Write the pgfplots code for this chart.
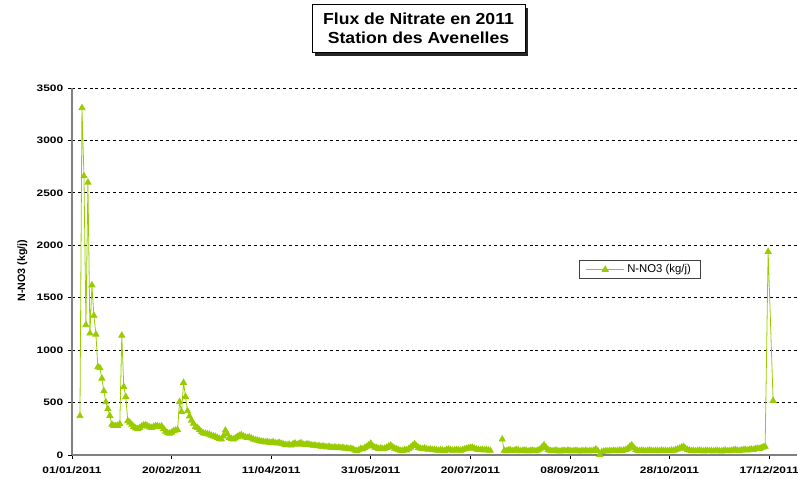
\documentclass[border=0pt]{standalone}
\usepackage{pgfplots}
\pgfplotsset{compat=1.18}
\usepackage{pgfplotstable}
\usepackage{fontspec}
\setmainfont{Liberation Sans}
\newfontfamily\stretched[FakeStretch=1.28]{Liberation Sans}
\newfontfamily\titlefont[FakeStretch=1.1]{Liberation Sans}
\definecolor{limeg}{HTML}{99CC00}
\pgfplotstableread[row sep=\\]{
day val\\
4 372\\ 5 3310\\ 6 2660\\ 7 1240\\ 8 2600\\ 9 1160\\ 10 1620\\ 11 1330\\ 12 1150\\ 13 840\\
14 830\\ 15 730\\ 16 610\\ 17 505\\ 18 440\\ 19 375\\ 20 290\\ 21 280\\ 22 278\\ 23 280\\
24 295\\ 25 1140\\ 26 650\\ 27 555\\ 28 325\\ 29 310\\ 30 290\\ 31 270\\ 32 255\\ 33 250\\
34 260\\ 35 275\\ 36 285\\ 37 285\\ 38 275\\ 39 265\\ 40 260\\ 41 270\\ 42 278\\ 43 275\\
44 270\\ 45 275\\ 46 250\\ 47 225\\ 48 210\\ 49 205\\ 50 215\\ 51 230\\ 52 235\\ 53 240\\
54 508\\ 55 413\\ 56 690\\ 57 556\\ 58 420\\ 59 370\\ 60 330\\ 61 300\\ 62 270\\ 63 260\\
64 240\\ 65 220\\ 66 207\\ 67 205\\ 68 200\\ 69 195\\ 70 185\\ 71 180\\ 72 175\\ 73 165\\
74 155\\ 75 150\\ 76 180\\ 77 235\\ 78 200\\ 79 165\\ 80 155\\ 81 150\\ 82 160\\ 83 175\\
84 185\\ 85 191\\ 86 180\\ 87 170\\ 88 165\\ 89 170\\ 90 160\\ 91 150\\ 92 143\\ 93 140\\
94 135\\ 95 130\\ 96 128\\ 97 122\\ 98 126\\ 99 120\\ 100 118\\ 101 125\\ 102 115\\ 103 112\\
104 118\\ 105 110\\ 106 105\\ 107 98\\ 108 95\\ 109 100\\ 110 92\\ 111 105\\ 112 112\\ 113 100\\
114 108\\ 115 115\\ 116 102\\ 117 98\\ 118 105\\ 119 100\\ 120 95\\ 121 90\\ 122 92\\ 123 85\\
124 88\\ 125 80\\ 126 84\\ 127 78\\ 128 75\\ 129 80\\ 130 72\\ 131 70\\ 132 75\\ 133 68\\
134 72\\ 135 66\\ 136 70\\ 137 62\\ 138 65\\ 139 58\\ 140 62\\ 141 55\\ 142 45\\ 143 40\\
144 48\\ 145 60\\ 146 55\\ 147 70\\ 148 80\\ 149 95\\ 150 110\\ 151 85\\ 152 72\\ 153 68\\
154 60\\ 155 65\\ 156 58\\ 157 62\\ 158 70\\ 159 82\\ 160 92\\ 161 75\\ 162 62\\ 163 55\\
164 48\\ 165 42\\ 166 40\\ 167 50\\ 168 45\\ 169 58\\ 170 72\\ 171 90\\ 172 105\\ 173 85\\
174 70\\ 175 62\\ 176 58\\ 177 65\\ 178 57\\ 179 52\\ 180 55\\ 181 48\\ 182 50\\ 183 45\\
184 42\\ 185 48\\ 186 45\\ 187 40\\ 188 50\\ 189 55\\ 190 48\\ 191 42\\ 192 45\\ 193 50\\
194 46\\ 195 42\\ 196 48\\ 197 55\\ 198 60\\ 199 65\\ 200 70\\ 201 72\\ 202 62\\ 203 55\\
204 50\\ 205 48\\ 206 52\\ 207 46\\ 208 50\\ 209 45\\ 210 42\\ 211 nan\\ 215 nan\\
216 150\\ 217 42\\ 218 38\\ 219 45\\ 220 48\\ 221 40\\ 222 42\\ 223 50\\ 224 46\\ 225 38\\
226 40\\ 227 45\\ 228 42\\ 229 36\\ 230 40\\ 231 44\\ 232 40\\ 233 38\\ 234 45\\ 235 55\\
236 75\\ 237 95\\ 238 70\\ 239 50\\ 240 42\\ 241 38\\ 242 40\\ 243 44\\ 244 38\\ 245 35\\
246 40\\ 247 42\\ 248 38\\ 249 44\\ 250 40\\ 251 36\\ 252 40\\ 253 42\\ 254 38\\ 255 35\\
256 40\\ 257 38\\ 258 42\\ 259 36\\ 260 40\\ 261 38\\ 262 45\\ 263 55\\ 264 40\\ 265 2\\
266 30\\ 267 35\\ 268 38\\ 269 36\\ 270 40\\ 271 38\\ 272 42\\ 273 38\\ 274 40\\ 275 44\\
276 40\\ 277 45\\ 278 50\\ 279 60\\ 280 80\\ 281 95\\ 282 70\\ 283 50\\ 284 42\\ 285 40\\
286 44\\ 287 40\\ 288 38\\ 289 42\\ 290 45\\ 291 40\\ 292 38\\ 293 42\\ 294 40\\ 295 38\\
296 44\\ 297 40\\ 298 42\\ 299 38\\ 300 40\\ 301 44\\ 302 42\\ 303 48\\ 304 55\\ 305 62\\
306 72\\ 307 80\\ 308 62\\ 309 50\\ 310 45\\ 311 40\\ 312 42\\ 313 38\\ 314 40\\ 315 44\\
316 40\\ 317 36\\ 318 40\\ 319 42\\ 320 38\\ 321 40\\ 322 36\\ 323 40\\ 324 42\\ 325 38\\
326 35\\ 327 40\\ 328 44\\ 329 38\\ 330 40\\ 331 42\\ 332 45\\ 333 50\\ 334 44\\ 335 40\\
336 45\\ 337 48\\ 338 52\\ 339 45\\ 340 50\\ 341 55\\ 342 50\\ 343 58\\ 344 62\\ 345 60\\
346 68\\ 347 75\\ 348 80\\ 349.5 1939\\ 352 518\\
}\flux
\begin{document}
\begin{tikzpicture}[x=0.75pt,y=0.75pt]
\useasboundingbox (0,0) rectangle (798,478);
\fill[black!85] (315,422) rectangle (528,470);
\draw[fill=white, line width=0.75pt] (312,425) rectangle (525,473);
\node[font=\titlefont\bfseries\fontsize{12}{14}\selectfont] at (418.5,459) {Flux de Nitrate en 2011};
\node[font=\titlefont\bfseries\fontsize{12}{14}\selectfont] at (418.5,440) {Station des Avenelles};
\begin{axis}[
  at={(54pt,17.25pt)}, anchor=south west,
  scale only axis, width=543.75pt, height=275.25pt,
  xmin=0, xmax=364, ymin=0, ymax=3500,
  axis x line*=bottom, axis y line*=left,
  axis line style={draw=gray, line width=0.9pt, -},
  xtick={0,50,...,350},
  xticklabels={01/01/2011,20/02/2011,11/04/2011,31/05/2011,20/07/2011,08/09/2011,28/10/2011,17/12/2011},
  ytick={0,500,...,3500},
  tick align=outside, major tick length=3pt,
  tick style={black, line width=0.6pt},
  ymajorgrids,
  major grid style={black, line width=0.6pt, dash pattern=on 2.2pt off 2.2pt},
  tick label style={font=\stretched\bfseries\fontsize{7}{8}\selectfont},
  xticklabel style={yshift=-2.2pt},
  /pgf/number format/assume math mode=true,
  /pgf/number format/1000 sep={},
  clip=false,
  unbounded coords=jump,
  legend style={at={(rel axis cs:0.783,0.505)}, anchor=center, draw=black!75, line width=0.6pt,
    font=\fontsize{8.5}{10}\selectfont, inner xsep=5pt, inner ysep=1pt},
  legend image code/.code={\draw[mark repeat=2,mark phase=2,#1] plot coordinates {(0cm,0cm) (0.5cm,0cm) (1.0cm,0cm)};},
]
\addplot[color=limeg, line width=0.6pt, mark=triangle*, mark size=2.6pt, mark options={solid, fill=limeg, draw=limeg}] table[x=day,y=val]{\flux};
\addlegendentry{N-NO3 (kg/j)}
\end{axis}
\node[rotate=90, font=\bfseries\fontsize{8}{9}\selectfont] at (22.5,207.5) {N-NO3 (kg/j)};
\end{tikzpicture}
\end{document}
